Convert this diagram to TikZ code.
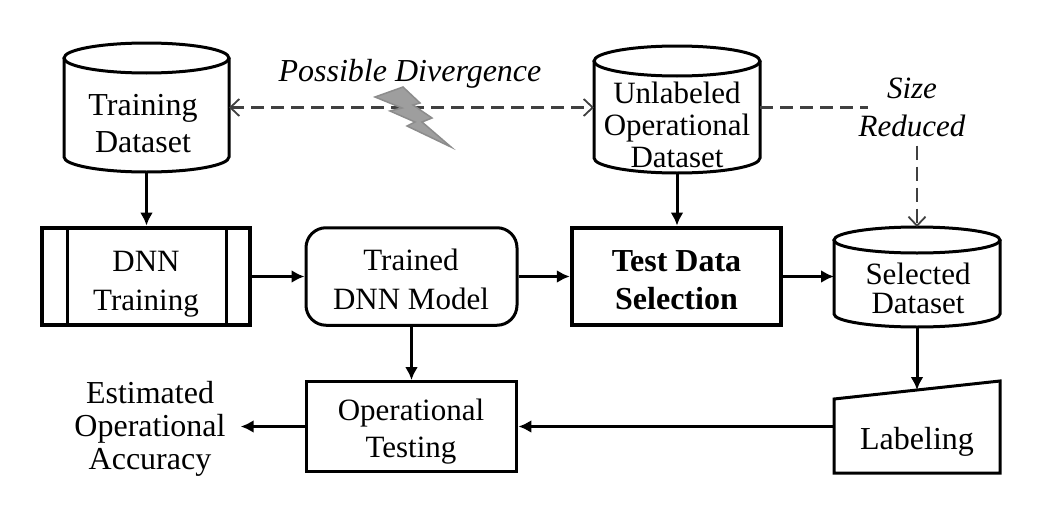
\documentclass[tikz,border=0pt]{standalone}
\usepackage{fontspec}
\setmainfont{Liberation Serif}
\usetikzlibrary{arrows.meta,positioning}
\tikzset{
  x=1pt,y=-1pt,
  area/.style={inner sep=0pt,outer sep=0pt,draw=none,anchor=north west},
  shapeline/.style={draw=black,line width=3pt,fill=white,line join=miter},
  boldbox/.style={draw=black,line width=4.4pt,fill=white},
  txt/.style={font=\fontsize{31}{32}\selectfont,align=center,inner sep=0pt,text=black},
  flow/.style={draw=black,line width=3pt,-{Latex[length=13pt,width=13pt]}},
  dashflow/.style={draw=black!75,line width=2.2pt,dash pattern=on 13pt off 7pt,-{Straight Barb[length=9pt,width=17pt,line width=1.8pt]}},
}
\newcommand{\cyl}[7]{% name,x0,x1,ytop,ybottom,ry,unused
  \node[area,minimum width=#3pt-#2pt,minimum height=#5pt-#4pt] (#1) at (#2,#4) {};
  \draw[shapeline] (#2,#4+#6) -- (#2,#5-#6)
    arc[start angle=180,end angle=360,x radius=(#3-#2)/2,y radius=-#6]
    -- (#3,#4+#6);
  \draw[shapeline] (#2+#3/2-#2/2,#4+#6) ellipse[x radius=(#3-#2)/2,y radius=#6];
}
\begin{document}
\begin{tikzpicture}
\useasboundingbox (0,0) rectangle (1045,522);
% cylinders
\cyl{train}{64}{229}{43}{172}{15}{}
\cyl{unlab}{594}{760}{46}{173}{15}{}
\cyl{sel}{834}{1000}{227}{327}{13}{}
% boxes
\node[boldbox,minimum width=207.5pt,minimum height=97.5pt,inner sep=0pt,outer sep=2.2pt] (dnn) at (146,276.5) {};
\draw[line width=3pt] (67,228) -- (67,325) (226,228) -- (226,325);
\node[shapeline,rounded corners=20pt,minimum width=211pt,minimum height=97.5pt,inner sep=0pt,outer sep=1.5pt] (model) at (411.5,276.5) {};
\node[boldbox,minimum width=209pt,minimum height=97.5pt,inner sep=0pt,outer sep=2.2pt] (select) at (676.5,276.5) {};
\node[shapeline,line width=3.4pt,minimum width=210.5pt,minimum height=89.5pt,inner sep=0pt,outer sep=1.7pt] (optest) at (411.5,426.5) {};
% labeling: manual oblique
\node[area,minimum width=166pt,minimum height=83pt] (label) at (834,390) {};
\draw[shapeline] (834,399) -- (1000,381) -- (1000,473) -- (834,473) -- cycle;
% lightning
\node[area,minimum width=1pt,minimum height=1pt] (bolt) at (375,87) {};
% texts
\node[txt,font=\fontsize{32}{37}\selectfont] (t1) at (143,124) {Training\\Dataset};
\node[txt] (t2) at (677,125) {Unlabeled\\Operational\\Dataset};
\node[txt,font=\fontsize{31}{29}\selectfont] (t3) at (918,288) {Selected\\Dataset};
\node[txt,font=\fontsize{31}{39}\selectfont] (t4) at (146,284) {DNN\\Training};
\node[txt,font=\fontsize{31}{39}\selectfont] (t5) at (411,279) {Trained\\DNN Model};
\node[txt,font=\fontsize{32}{38}\bfseries\selectfont] (t6) at (676.5,280) {Test Data\\Selection};
\node[txt,font=\fontsize{31}{37}\selectfont] (t7) at (411,432) {Operational\\Testing};
\node[txt,font=\fontsize{32}{32}\selectfont] (t8) at (917,442) {Labeling};
\node[txt,font=\fontsize{32}{33}\selectfont] (est) at (150,429) {Estimated\\Operational\\Accuracy};
\node[txt,font=\fontsize{31}{38}\itshape\selectfont] (size) at (912,107) {Size\\Reduced};
\node[txt,font=\fontsize{32}{33}\itshape\selectfont] (div) at (410,74) {Possible Divergence};
% connectors
\draw[flow] (train.south) -- (train.south |- dnn.north);
\draw[flow] (unlab.south) -- (unlab.south |- select.north);
\draw[flow] (dnn.east) -- (model.west);
\draw[flow] (model.east) -- (select.west);
\draw[flow] (select.east) -- (sel.west |- select.east);
\draw[flow] (model.south) -- (optest.north);
\draw[flow] (sel.south) -- (sel.south |- label.north);
\draw[flow] (label.west |- optest.east) -- (optest.east);
\draw[flow] (optest.west) -- ([xshift=15pt]est.east |- optest.west);
\draw[dashflow,{Straight Barb[length=9pt,width=17pt,line width=1.8pt]}-{Straight Barb[length=9pt,width=17pt,line width=1.8pt]}] (train.east) -- (train.east -| unlab.west);
\draw[draw=black!75,line width=2.2pt,dash pattern=on 13pt off 7pt] (train.east -| unlab.east) -- ([xshift=10pt]size.west |- train.east);
\draw[dashflow,dash pattern=on 14pt off 7pt] ([yshift=-9pt]size.south -| sel.north) -- (sel.north);
% bolt
\draw[draw=black!45,fill=black!38,line width=1.5pt,line join=miter]
 (bolt.north west) ++(0,10) -- (403,87) -- (420,103) -- (413,105) -- (432,118) -- (422,122) -- (451,147) -- (407,126) -- (415,122) -- (390,111) -- (402,108) -- cycle;
\end{tikzpicture}
\end{document}
